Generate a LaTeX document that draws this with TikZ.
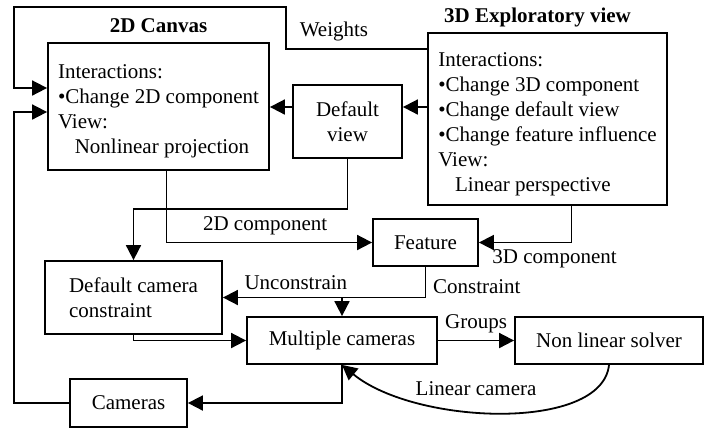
\documentclass[tikz,border=0pt]{standalone}
\usepackage{fontspec}
\setmainfont{Liberation Serif}
\usetikzlibrary{
  arrows.meta,
  positioning
}

\begin{document}
\begin{tikzpicture}[
    x=0.5pt, y=-0.5pt,
    every node/.style={font=\fontsize{10.5}{12.5}\selectfont},
    box/.style={
      draw,
      line width=0.9pt,
      align=center,
      inner sep=2pt
    },
    ttl/.style={font=\fontsize{10.5}{12.5}\selectfont\bfseries},
    ar/.style={-{Triangle[length=7.5pt,width=7.5pt]}, line width=0.9pt}
  ]
    \useasboundingbox (0,0) rectangle (710,430);

    % the two views and their titles
    \node[box, align=left, minimum width=110.5pt, minimum height=63.5pt] (canvas) at (158.5,106.5)
      {\rule{0pt}{12pt}Interactions:\\•Change 2D component\\View:\\\hspace*{0.8em}Nonlinear projection};
    \node[ttl, above=1pt of canvas] (canvasttl) {2D Canvas};
    \node[box, align=left, minimum width=119.5pt, minimum height=86pt] (view3d) at (547.5,119)
      {\rule{0pt}{12pt}Interactions:\\•Change 3D component\\•Change default view\\•Change feature influence\\View:\\\hspace*{0.8em}Linear perspective};
    \node[ttl, above=-1pt of view3d, xshift=-5pt] (view3dttl) {3D Exploratory view};
    \node[box, minimum width=54.5pt, minimum height=36.5pt] (dview) at (347.5,121.5) {Default\\view};

    % middle and lower boxes
    \node[box, minimum width=52.5pt, minimum height=23.5pt] (feature) at (425.5,242.5) {Feature};
    \node[box, align=left, minimum width=88.5pt, minimum height=36.5pt] (dcam) at (133.5,297.5)
      {Default camera\\constraint};
    \node[box, minimum width=95pt, minimum height=23.5pt] (mcam) at (342,340.5) {Multiple cameras};
    \node[box, minimum width=94pt, minimum height=23.5pt] (nls) at (609,340.5) {Non linear solver};
    \node[box, minimum width=58.5pt, minimum height=24pt] (cams) at (128.5,403) {Cameras};

    % connectors
    \draw[ar] (view3d.west |- 0,49) -| node[above, pos=.33] {Weights} (286,7)
      -| (14,88) -- (canvas.west |- 0,88);
    \draw[ar] (view3d.west |- 0,107) -- (dview.east |- 0,107);
    \draw[ar] (dview.west |- 0,107) -- (canvas.east |- 0,107);
    \draw[ar] (dview.south) |- (dcam.north |- 0,209) -- (dcam.north);
    \draw[ar] ([xshift=4pt]canvas.south) |- node[above, pos=.74] {2D component} (feature.west);
    \draw[ar] ([xshift=12pt]view3d.south) |- (feature.east)
      node[below right, xshift=3pt] {3D component};
    \draw[ar] (feature.south) |- node[right, pos=.32] {Constraint}
      node[above, pos=.82] {Unconstrain} (dcam.east);
    \draw[ar] (mcam.north |- 0,297) -- (mcam.north);
    \draw[ar] (dcam.south) |- (mcam.west);
    \draw[ar] (mcam) -- node[above] {Groups} (nls);
    \draw[ar] (nls.south) .. controls (602,432) and (415,425) .. node[pos=.57, above=4pt] {Linear camera} (mcam.south);
    \draw[ar] (mcam.south) |- (cams.east);
    \draw[ar] (cams.west) -| (14,112) -- (canvas.west |- 0,112);

  \end{tikzpicture}
\end{document}
